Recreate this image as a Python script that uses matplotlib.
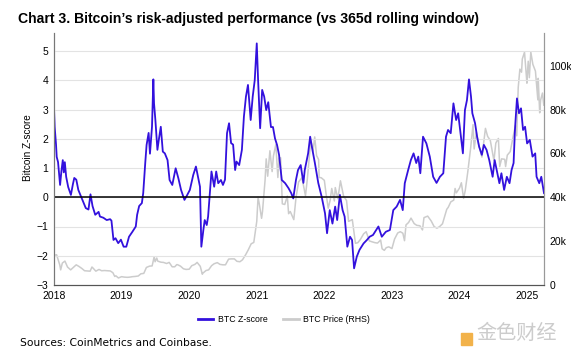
import numpy as np
import pandas as pd
import matplotlib
matplotlib.use("Agg")
import matplotlib.pyplot as plt
from matplotlib.patches import Rectangle

# BTC z-score (vs 365d rolling window), x = years since 2018-01-01
z_t = [0.00, 0.01, 0.03, 0.04, 0.06, 0.09, 0.11, 0.13, 0.145, 0.16, 0.18, 0.21, 0.25, 0.28,
       0.30, 0.33, 0.36, 0.39, 0.43, 0.47, 0.51, 0.54, 0.57, 0.61, 0.66, 0.68, 0.73, 0.78,
       0.83, 0.85, 0.88, 0.91, 0.95, 0.99, 1.03, 1.07, 1.11, 1.16, 1.21, 1.23, 1.26, 1.30,
       1.32, 1.35, 1.37, 1.40, 1.42, 1.45, 1.47, 1.48, 1.50, 1.53, 1.55, 1.58, 1.61, 1.64,
       1.68, 1.71, 1.75, 1.80, 1.84, 1.88, 1.93, 1.96, 2.01, 2.06, 2.10, 2.13, 2.16, 2.18,
       2.21, 2.23, 2.26, 2.28, 2.31, 2.33, 2.37, 2.40, 2.43, 2.47, 2.50, 2.53, 2.56, 2.59,
       2.62, 2.65, 2.68, 2.70, 2.74, 2.78, 2.81, 2.84, 2.87, 2.91, 2.94, 2.97, 3.00, 3.02,
       3.05, 3.08, 3.11, 3.14, 3.17, 3.21, 3.24, 3.27, 3.30, 3.33, 3.37, 3.42, 3.47, 3.51,
       3.54, 3.58, 3.61, 3.65, 3.69, 3.71, 3.76, 3.79, 3.82, 3.86, 3.91, 3.96, 4.01, 4.04,
       4.08, 4.12, 4.16, 4.19, 4.23, 4.27, 4.30, 4.34, 4.38, 4.41, 4.44, 4.48, 4.52, 4.58,
       4.63, 4.67, 4.72, 4.80, 4.85, 4.91, 4.97, 5.02, 5.07, 5.12, 5.16, 5.19, 5.24, 5.28,
       5.32, 5.36, 5.39, 5.42, 5.46, 5.51, 5.56, 5.61, 5.66, 5.71, 5.76, 5.80, 5.83, 5.87,
       5.91, 5.95, 5.98, 6.02, 6.05, 6.08, 6.11, 6.14, 6.17, 6.19, 6.23, 6.26, 6.29, 6.33,
       6.36, 6.40, 6.44, 6.49, 6.52, 6.56, 6.59, 6.62, 6.66, 6.70, 6.74, 6.77, 6.80, 6.82,
       6.85, 6.88, 6.91, 6.94, 6.97, 7.00, 7.04, 7.08, 7.12, 7.14, 7.18, 7.21, 7.25]
z_val = [3.05, 2.4, 1.8, 1.38, 1.2, 0.42, 0.9, 1.27, 0.85, 1.2, 0.7, 0.35, 0.08, 0.45,
         0.66, 0.6, 0.25, 0.08, -0.15, -0.37, -0.42, 0.1, -0.3, -0.6, -0.5, -0.66, -0.7, -0.78,
         -0.75, -0.8, -1.46, -1.4, -1.57, -1.45, -1.69, -1.69, -1.35, -1.18, -1.0, -0.6, -0.3, -0.2,
         0.14, 1.17, 1.79, 2.2, 1.49, 2.41, 4.03, 3.21, 2.64, 1.62, 1.95, 2.41, 1.56, 1.5,
         1.27, 0.59, 0.42, 0.99, 0.65, 0.25, -0.09, 0.03, 0.25, 0.76, 1.05, 0.7, 0.36, -1.69,
         -1.12, -0.78, -0.95, -0.66, 0.25, 0.88, 0.36, 0.88, 0.48, 0.59, 0.42, 0.6, 2.19, 2.53,
         1.85, 1.8, 0.93, 1.22, 1.1, 1.62, 2.76, 3.44, 3.84, 2.64, 3.44, 4.0, 5.26, 4.0,
         2.36, 3.67, 3.44, 2.98, 3.25, 2.4, 2.4, 2.01, 1.79, 1.45, 0.59, 0.48, 0.31, 0.14,
         -0.04, 0.59, 0.93, 1.1, 0.49, 0.93, 1.5, 2.07, 1.67, 1.17, 0.49, 0.02, -0.55, -1.23,
         -0.44, -0.9, -0.32, -0.78, 0.08, -0.44, -0.66, -1.69, -1.35, -1.46, -2.43, -2.03, -1.8, -1.58,
         -1.46, -1.35, -1.29, -1.0, -1.35, -1.18, -1.12, -0.44, -0.32, -0.09, -0.44, 0.48, 0.93, 1.27,
         1.5, 1.17, 1.39, 0.82, 2.07, 1.84, 1.39, 0.7, 0.49, 0.7, 0.82, 2.07, 2.3, 2.19,
         3.21, 2.64, 2.87, 2.07, 1.5, 2.98, 3.32, 4.03, 3.44, 2.87, 2.53, 2.07, 1.73, 1.45,
         1.79, 1.62, 1.27, 0.7, 1.27, 0.82, 0.48, 0.82, 0.25, 0.7, 0.48, 0.93, 1.17, 2.3,
         3.38, 2.87, 3.04, 2.3, 2.41, 1.84, 1.96, 1.39, 1.5, 0.7, 0.48, 0.7, 0.14]

# BTC price in thousands USD (right axis)
px_date = ["2018-01-01", "2018-01-15", "2018-02-01", "2018-02-06", "2018-02-15", "2018-03-01",
           "2018-03-15", "2018-04-01", "2018-04-15", "2018-05-01", "2018-05-15", "2018-06-01",
           "2018-06-15", "2018-07-01", "2018-07-15", "2018-07-25", "2018-08-01", "2018-08-15",
           "2018-09-01", "2018-09-15", "2018-10-01", "2018-10-15", "2018-11-01", "2018-11-15",
           "2018-11-25", "2018-12-01", "2018-12-15", "2019-01-01", "2019-01-15", "2019-02-01",
           "2019-02-15", "2019-03-01", "2019-03-15", "2019-04-01", "2019-04-15", "2019-05-01",
           "2019-05-15", "2019-06-01", "2019-06-15", "2019-06-26", "2019-07-01", "2019-07-10",
           "2019-07-15", "2019-08-01", "2019-08-15", "2019-09-01", "2019-09-15", "2019-10-01",
           "2019-10-15", "2019-10-26", "2019-11-01", "2019-11-15", "2019-12-01", "2019-12-15",
           "2020-01-01", "2020-01-15", "2020-02-01", "2020-02-13", "2020-03-01", "2020-03-12",
           "2020-03-15", "2020-04-01", "2020-04-15", "2020-05-01", "2020-05-15", "2020-06-01",
           "2020-06-15", "2020-07-01", "2020-07-15", "2020-08-01", "2020-08-15", "2020-09-01",
           "2020-09-15", "2020-10-01", "2020-10-15", "2020-11-01", "2020-11-15", "2020-12-01",
           "2020-12-15", "2021-01-01", "2021-01-08", "2021-01-15", "2021-01-27", "2021-02-01",
           "2021-02-15", "2021-02-21", "2021-03-01", "2021-03-13", "2021-03-25", "2021-04-01",
           "2021-04-14", "2021-04-25", "2021-05-01", "2021-05-10", "2021-05-19", "2021-06-01",
           "2021-06-15", "2021-06-22", "2021-07-01", "2021-07-20", "2021-08-01", "2021-08-15",
           "2021-09-01", "2021-09-07", "2021-09-21", "2021-10-01", "2021-10-20", "2021-11-01",
           "2021-11-10", "2021-11-20", "2021-12-01", "2021-12-04", "2021-12-15", "2022-01-01",
           "2022-01-10", "2022-01-22", "2022-02-01", "2022-02-10", "2022-02-24", "2022-03-01",
           "2022-03-15", "2022-03-29", "2022-04-15", "2022-05-01", "2022-05-12", "2022-06-01",
           "2022-06-18", "2022-07-01", "2022-07-15", "2022-08-01", "2022-08-15", "2022-09-01",
           "2022-09-15", "2022-10-01", "2022-10-15", "2022-11-01", "2022-11-09", "2022-11-21",
           "2022-12-01", "2022-12-15", "2023-01-01", "2023-01-15", "2023-02-01", "2023-02-15",
           "2023-03-01", "2023-03-10", "2023-03-18", "2023-04-01", "2023-04-14", "2023-05-01",
           "2023-05-15", "2023-06-01", "2023-06-15", "2023-06-23", "2023-07-13", "2023-08-01",
           "2023-08-17", "2023-09-01", "2023-09-15", "2023-10-01", "2023-10-24", "2023-11-01",
           "2023-11-15", "2023-12-01", "2023-12-08", "2023-12-15", "2024-01-01", "2024-01-11",
           "2024-01-23", "2024-02-01", "2024-02-15", "2024-03-01", "2024-03-14", "2024-03-20",
           "2024-04-01", "2024-04-15", "2024-05-01", "2024-05-20", "2024-06-01", "2024-06-15",
           "2024-07-05", "2024-07-15", "2024-07-29", "2024-08-05", "2024-08-15", "2024-09-01",
           "2024-09-06", "2024-09-15", "2024-10-01", "2024-10-15", "2024-10-29", "2024-11-05",
           "2024-11-13", "2024-11-22", "2024-12-01", "2024-12-05", "2024-12-17", "2024-12-30",
           "2025-01-01", "2025-01-07", "2025-01-13", "2025-01-21", "2025-02-01", "2025-02-15",
           "2025-02-28", "2025-03-02", "2025-03-10", "2025-03-15", "2025-03-25", "2025-04-01"]
px_val = [13.5, 13.8, 9.2, 6.9, 10.0, 10.9, 8.2, 6.9, 8.0, 9.2, 8.5, 7.5,
          6.5, 6.4, 6.3, 8.2, 7.6, 6.3, 7.1, 6.5, 6.6, 6.5, 6.4, 5.6,
          3.9, 4.2, 3.2, 3.8, 3.6, 3.5, 3.6, 3.8, 3.9, 4.1, 5.1, 5.3,
          8.0, 8.6, 8.7, 12.9, 10.6, 12.3, 10.9, 10.4, 10.3, 9.8, 10.3, 8.3,
          8.3, 9.3, 9.2, 8.6, 7.4, 7.1, 7.2, 8.8, 9.4, 10.3, 8.5, 4.9,
          5.4, 6.6, 6.9, 8.8, 9.7, 10.2, 9.4, 9.2, 9.2, 11.8, 11.9, 11.9,
          10.8, 10.6, 11.5, 13.8, 16.0, 18.8, 19.4, 29.0, 40.0, 36.8, 30.4, 33.5,
          47.9, 57.5, 49.6, 61.2, 51.7, 58.8, 64.0, 49.0, 57.8, 58.0, 37.0, 36.7,
          40.5, 32.5, 33.5, 29.8, 39.9, 47.0, 48.8, 46.8, 40.7, 48.2, 66.0, 61.0,
          67.5, 59.0, 57.2, 49.0, 48.9, 47.7, 41.8, 35.0, 38.5, 44.0, 38.3, 44.4,
          39.3, 47.5, 40.5, 38.5, 29.0, 29.8, 19.0, 19.3, 20.8, 23.3, 24.3, 20.1,
          19.7, 19.3, 19.1, 20.5, 16.5, 15.8, 17.0, 17.4, 16.6, 20.9, 23.7, 24.3,
          23.6, 20.2, 27.4, 28.5, 30.5, 28.0, 27.2, 27.0, 25.1, 30.7, 31.4, 29.2,
          26.6, 25.9, 26.6, 27.9, 34.5, 35.4, 37.9, 38.7, 44.0, 42.0, 44.2, 46.6,
          39.5, 43.1, 51.8, 62.4, 73.1, 62.0, 69.7, 63.4, 58.3, 71.4, 67.7, 66.0,
          56.7, 64.7, 66.8, 54.0, 57.5, 57.3, 54.0, 59.2, 60.8, 67.0, 72.7, 68.0,
          90.0, 98.4, 97.0, 103.0, 106.1, 92.0, 94.4, 102.0, 94.5, 106.2, 100.6, 97.5,
          84.4, 94.2, 78.5, 84.3, 87.5, 82.0]

years = list(range(2018, 2026))
z_ticks = list(range(-3, 6))
px_ticks = [0, 20, 40, 60, 80, 100]
px_labels = ["0", "20k", "40k", "60k", "80k", "100k"]

blue = "#3311dd"
grey = "#cccccc"
font = ["Liberation Sans Narrow", "Liberation Sans"]

d = pd.to_datetime(px_date)
px_t = d.year + (d.dayofyear - 1) / 365.0
zx = 2018 + np.array(z_t)

fig = plt.figure(figsize=(5.71, 3.54), dpi=100)
ax = fig.add_axes([54 / 571, 69 / 354, 490 / 571, 252 / 354])
ax2 = ax.twinx()
ax.set_zorder(2)
ax.patch.set_visible(False)

z_top = 5 + 18 / 29.25
ax.set_ylim(-3, z_top)
ax2.set_ylim(0, (z_top + 3) * 40 / 3)
ax.set_xlim(2018, 2025.25)

ax2.plot(px_t, px_val, color=grey, lw=1.1)
ax.plot(zx, z_val, color=blue, lw=1.3)
ax.axhline(0, color="black", lw=1.1)

ax.set_yticks(z_ticks)
ax.set_xticks(years)
ax2.set_yticks(px_ticks)
ax2.set_yticklabels(px_labels)
for t in z_ticks[1:]:
    ax.axhline(t, color="#e3e3e3", lw=0.8, zorder=0)

ax.tick_params(axis="x", length=0, labelsize=7.5, pad=4.5)
ax.tick_params(axis="y", length=0, labelsize=7.5, pad=4)
ax2.tick_params(axis="y", length=0, labelsize=7.5, pad=4)
for lab in ax.get_xticklabels() + ax.get_yticklabels() + ax2.get_yticklabels():
    lab.set_family(font)
for lab in ax.get_yticklabels():
    lab.set_verticalalignment("center_baseline")

for a in (ax, ax2):
    a.spines["top"].set_visible(False)
    a.spines["left"].set_color("#777777")
    a.spines["right"].set_color("#999999")
    a.spines["bottom"].set_color("#555555")
    a.spines["left"].set_linewidth(0.8)
    a.spines["right"].set_linewidth(0.8)

ax.set_ylabel("Bitcoin Z-score", fontsize=7.2, family=font)
ax.yaxis.set_label_coords(-0.043, 0.544)

h1, = ax.plot([], [], color=blue, lw=2)
h2, = ax.plot([], [], color=grey, lw=2)
fig.legend([h1, h2], ["BTC Z-score", "BTC Price (RHS)"], loc="center",
           bbox_to_anchor=(284 / 571, 1 - 320 / 354), ncol=2, frameon=False,
           prop={"family": font, "size": 6.3}, handlelength=1.8, handletextpad=0.5,
           columnspacing=1.8)

fig.text(18 / 571, 1 - 22.7 / 354,
         "Chart 3. Bitcoin\u2019s risk-adjusted performance (vs 365d rolling window)",
         fontsize=10.1, fontweight="bold", family=font, va="baseline")
fig.text(20 / 571, 1 - 346 / 354, "Sources: CoinMetrics and Coinbase.",
         fontsize=7.7, family="DejaVu Sans", va="baseline")

# watermark
fig.patches.append(Rectangle((461 / 571, 1 - 345 / 354), 11 / 571, 12 / 354,
                             transform=fig.transFigure, color="#f2b24a", figure=fig))
fig.text(476 / 571, 1 - 333 / 354, "金色财经", fontsize=14.5, color="#cccccc",
         family=["Noto Sans CJK SC", "DejaVu Sans"], va="center")

fig.savefig("out.png", dpi=100)
